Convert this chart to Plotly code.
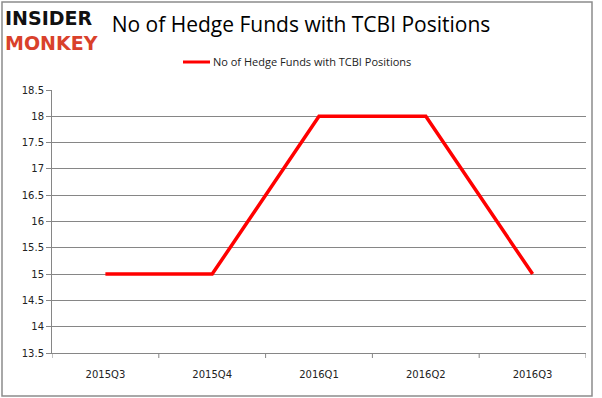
import plotly.graph_objects as go

quarters = ["2015Q3", "2015Q4", "2016Q1", "2016Q2", "2016Q3"]
hedge_funds = [15, 15, 18, 18, 15]
y_ticks = [13.5, 14, 14.5, 15, 15.5, 16, 16.5, 17, 17.5, 18, 18.5]
series_name = "No of Hedge Funds with TCBI Positions"
title_text = "No of Hedge Funds with TCBI Positions"

W, H = 602, 398
L, R, T, B = 52, 16, 90, 45
pw, ph = W - L - R, H - T - B
RED = "#ff0000"

def px(x):
    return (x - L) / pw

def py(y):
    return (H - B - y) / ph

fig = go.Figure()
fig.add_trace(go.Scatter(
    x=quarters, y=hedge_funds, mode="lines", name=series_name,
    line=dict(color=RED, width=3.5), showlegend=False,
))

fig.update_layout(
    width=W, height=H,
    margin=dict(l=L, r=R, t=T, b=B),
    paper_bgcolor="white", plot_bgcolor="white",
    showlegend=False,
    title=dict(text=title_text, xref="container", x=301 / W, xanchor="center",
               yref="container", y=1 - 25 / H, yanchor="middle",
               font=dict(family="Open Sans", size=21, color="#000")),
    xaxis=dict(type="category", range=[-0.5, 4.5], showgrid=False,
               showline=True, linecolor="#868686", linewidth=1,
               ticks="", tickfont=dict(family="DejaVu Sans", size=10, color="#222"),
               ticklabelstandoff=12),
    yaxis=dict(range=[13.5, 18.5], tickvals=y_ticks, ticktext=[f"{v:g}" for v in y_ticks],
               showgrid=True, gridcolor="#868686", gridwidth=1,
               showline=True, linecolor="#868686", linewidth=1,
               ticks="outside", ticklen=5, tickcolor="#868686",
               zeroline=False,
               tickfont=dict(family="DejaVu Sans", size=10, color="#222")),
)

# category boundary tick marks on the x axis
for i in range(len(quarters) + 1):
    fig.add_shape(type="line", xref="x", yref="paper", x0=i - 0.5, x1=i - 0.5,
                  y0=0, y1=-5 / ph, line=dict(color="#868686", width=1))

# outer border
fig.add_shape(type="rect", xref="paper", yref="paper",
              x0=px(2), x1=px(592), y0=py(396), y1=py(2),
              line=dict(color="#8c8c8c", width=1.5), fillcolor="rgba(0,0,0,0)", layer="below")

# legend (drawn manually)
fig.add_shape(type="line", xref="paper", yref="paper", x0=px(183), x1=px(210),
              y0=py(62), y1=py(62), line=dict(color=RED, width=3))
fig.add_annotation(text=series_name, xref="paper", yref="paper", x=px(211), y=py(62),
                   xanchor="left", yanchor="middle", showarrow=False,
                   font=dict(family="Open Sans", size=11, color="#222"))

# logo (one two-line text)
fig.add_annotation(
    text="<b>INSIDER</b><br><b><span style='color:#d9412b'>MONKEY</span></b>",
    xref="paper", yref="paper", x=px(3), y=py(30),
    xanchor="left", yanchor="middle", align="left", showarrow=False,
    font=dict(family="DejaVu Sans", size=19, color="#111"))

fig.write_html("out.html", config={"displayModeBar": False},
               post_script="document.body.style.margin='0';document.body.style.padding='0';")
